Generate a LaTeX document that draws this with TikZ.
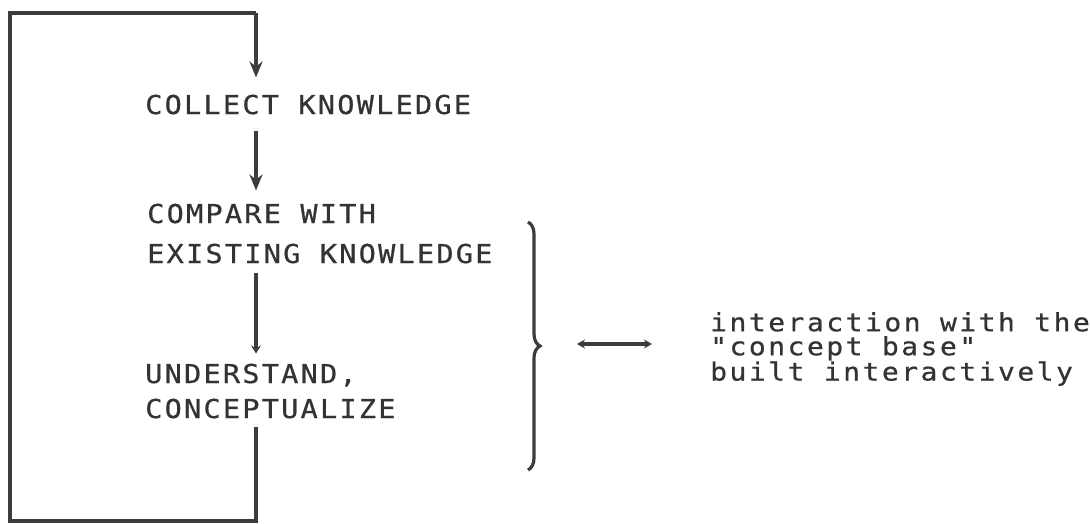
\documentclass[tikz,border=0pt]{standalone}
\usepackage{fontspec}
\usetikzlibrary{arrows.meta,decorations.pathreplacing}
\newfontfamily\capsfont[FakeStretch=1.1,LetterSpace=8.5,FakeBold=0.6]{DejaVu Sans Mono}
\newfontfamily\notefont[FakeStretch=1.12,LetterSpace=10,FakeBold=0.6]{DejaVu Sans Mono}
\definecolor{ink}{HTML}{333333}
\definecolor{pen}{HTML}{3C3C3C}
\begin{document}
\begin{tikzpicture}[x=1pt,y=-1pt,
  stage/.style={anchor=base west,inner sep=0pt,align=left,text=ink},
  flow/.style={draw=pen,line width=3.2pt,-{Stealth[length=16pt,width=13pt]}},
  tick/.style={draw=pen,line width=3.2pt,-{Stealth[length=8pt,width=10pt]}},
  wire/.style={draw=pen,line width=3.2pt},
  note/.style={anchor=west,inner sep=0pt,align=left,text=ink,
    font={\fontsize{25}{24}\selectfont\notefont}}]
\useasboundingbox[fill=white] (0,0) rectangle (1090,523);

% process steps
\node[stage,font={\fontsize{26}{40}\selectfont\capsfont}] (collect) at (145,114) {COLLECT KNOWLEDGE};
\node[stage,font={\fontsize{26}{40}\selectfont\capsfont}] (compare) at (147,263) {COMPARE WITH\\EXISTING KNOWLEDGE};
\node[stage,font={\fontsize{26}{35}\selectfont\capsfont}] (understand) at (145,418) {UNDERSTAND,\\CONCEPTUALIZE};

% vertical spine of the loop
\coordinate (spine) at (256,0);
\coordinate (loopbr) at (256,521);
\coordinate (loopbl) at (10,521);
\coordinate (looptl) at (10,13);
\coordinate (looptr) at (256,13);

\draw[flow,shorten <=16pt,shorten >=13pt] (collect.south -| spine) -- (compare.north -| spine);
\draw[tick,shorten <=9pt,shorten >=10pt] (compare.south -| spine) -- (understand.north -| spine);
\draw[wire,shorten <=8pt] (understand.south -| spine) -- (loopbr) -- (loopbl) -- (looptl) -- (looptr);
\draw[flow,shorten >=17pt] (looptr) -- (collect.north -| spine);

% brace over the last two steps
\draw[wire,decorate,decoration={brace,amplitude=12pt}] (528,222) -- (528,470);
\coordinate (bracetip) at (540,344);

% note on the right
\node[note] (concept) at (710,349) {interaction with the\\"concept base"\\built interactively};

\draw[wire,{Stealth[length=8pt,width=9pt]}-{Stealth[length=8pt,width=9pt]},shorten <=37pt] (bracetip) -- (652,344);
\end{tikzpicture}
\end{document}
